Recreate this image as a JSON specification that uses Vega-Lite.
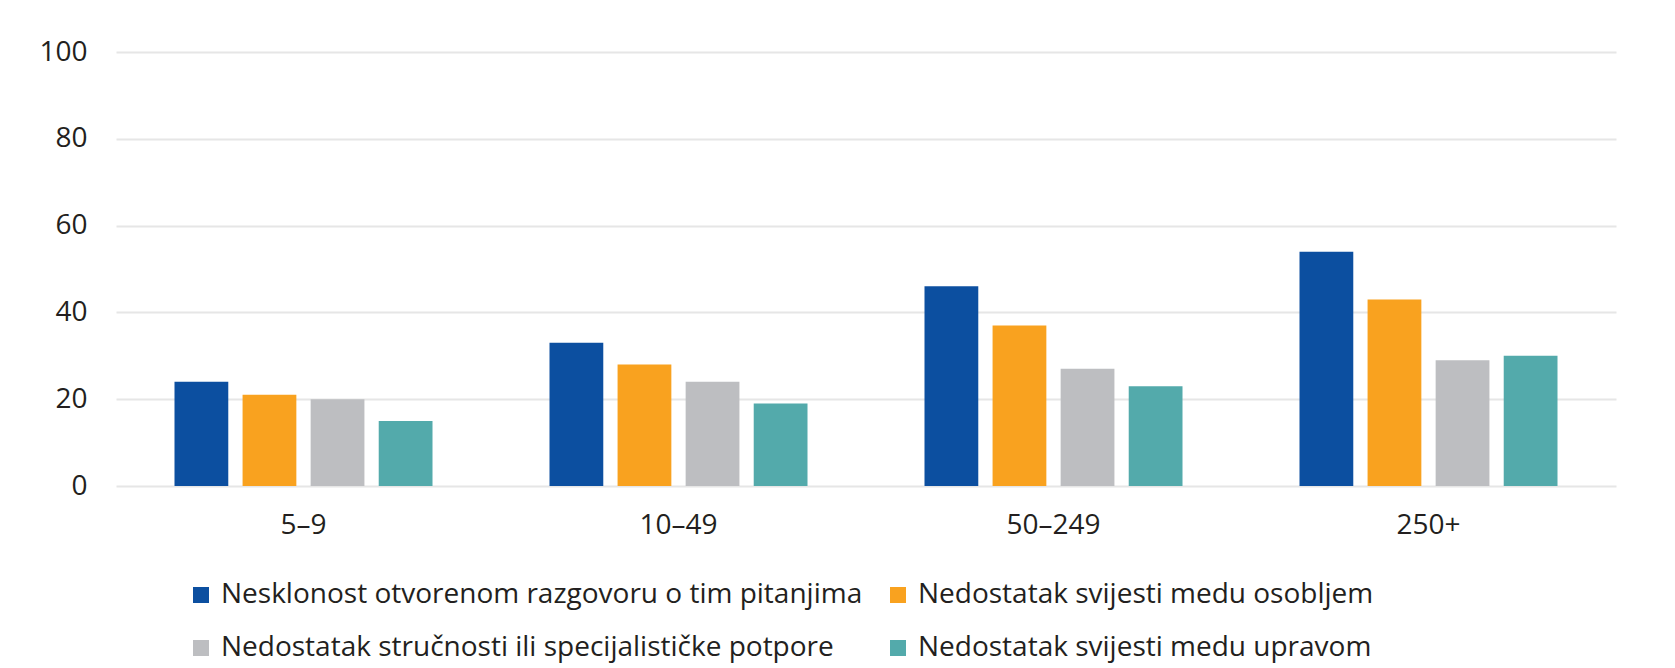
{
  "$schema": "https://vega.github.io/schema/vega-lite/v6.json",
  "autosize": {"type": "none"},
  "padding": {"left": 116, "top": 52, "right": 59, "bottom": 182},
  "width": 1500,
  "height": 434,
  "background": "white",
  "config": {
    "font": "Open Sans",
    "view": {"stroke": null},
    "axis": {"labelColor": "#231f20", "labelFont": "Open Sans"},
    "legend": {"labelColor": "#231f20", "labelFont": "Open Sans"}
  },
  "data": {
    "values": [
      {"size": "5–9", "reason": "Nesklonost otvorenom razgovoru o tim pitanjima", "value": 24},
      {"size": "5–9", "reason": "Nedostatak svijesti medu osobljem", "value": 21},
      {"size": "5–9", "reason": "Nedostatak stručnosti ili specijalističke potpore", "value": 20},
      {"size": "5–9", "reason": "Nedostatak svijesti medu upravom", "value": 15},
      {"size": "10–49", "reason": "Nesklonost otvorenom razgovoru o tim pitanjima", "value": 33},
      {"size": "10–49", "reason": "Nedostatak svijesti medu osobljem", "value": 28},
      {"size": "10–49", "reason": "Nedostatak stručnosti ili specijalističke potpore", "value": 24},
      {"size": "10–49", "reason": "Nedostatak svijesti medu upravom", "value": 19},
      {"size": "50–249", "reason": "Nesklonost otvorenom razgovoru o tim pitanjima", "value": 46},
      {"size": "50–249", "reason": "Nedostatak svijesti medu osobljem", "value": 37},
      {"size": "50–249", "reason": "Nedostatak stručnosti ili specijalističke potpore", "value": 27},
      {"size": "50–249", "reason": "Nedostatak svijesti medu upravom", "value": 23},
      {"size": "250+", "reason": "Nesklonost otvorenom razgovoru o tim pitanjima", "value": 54},
      {"size": "250+", "reason": "Nedostatak svijesti medu osobljem", "value": 43},
      {"size": "250+", "reason": "Nedostatak stručnosti ili specijalističke potpore", "value": 29},
      {"size": "250+", "reason": "Nedostatak svijesti medu upravom", "value": 30}
    ]
  },
  "mark": {"type": "bar"},
  "encoding": {
    "x": {
      "field": "size", "type": "nominal", "sort": ["5–9", "10–49", "50–249", "250+"],
      "scale": {"paddingInner": 0.312, "paddingOuter": 0.156},
      "axis": {"title": null, "labelAngle": 0, "domain": false, "ticks": false, "labelFontSize": 28, "labelPadding": 47, "labelBaseline": "alphabetic", "labelBound": false}
    },
    "xOffset": {
      "field": "reason", "type": "nominal",
      "sort": ["Nesklonost otvorenom razgovoru o tim pitanjima", "Nedostatak svijesti medu osobljem", "Nedostatak stručnosti ili specijalističke potpore", "Nedostatak svijesti medu upravom"],
      "scale": {"paddingInner": 0.21, "paddingOuter": 0}
    },
    "y": {
      "field": "value", "type": "quantitative",
      "scale": {"domain": [0, 100]},
      "axis": {"title": null, "values": [0, 20, 40, 60, 80, 100], "domain": false, "ticks": false, "labelFontSize": 28, "labelPadding": 29, "gridColor": "#e6e6e6", "gridWidth": 2, "labelBaseline": "middle"}
    },
    "color": {
      "field": "reason", "type": "nominal",
      "scale": {
        "domain": ["Nesklonost otvorenom razgovoru o tim pitanjima", "Nedostatak svijesti medu osobljem", "Nedostatak stručnosti ili specijalističke potpore", "Nedostatak svijesti medu upravom"],
        "range": ["#0c4fa0", "#f9a21f", "#bdbec1", "#53aaab"]
      },
      "legend": {
        "title": null, "orient": "none", "legendX": 71, "legendY": 529,
        "direction": "horizontal", "columns": 2,
        "symbolType": "square", "symbolSize": 256, "symbolStrokeWidth": 0,
        "labelFontSize": 28, "labelOffset": 6, "rowPadding": 25, "columnPadding": 21,
        "labelLimit": 800, "padding": 0
      }
    }
  }
}
